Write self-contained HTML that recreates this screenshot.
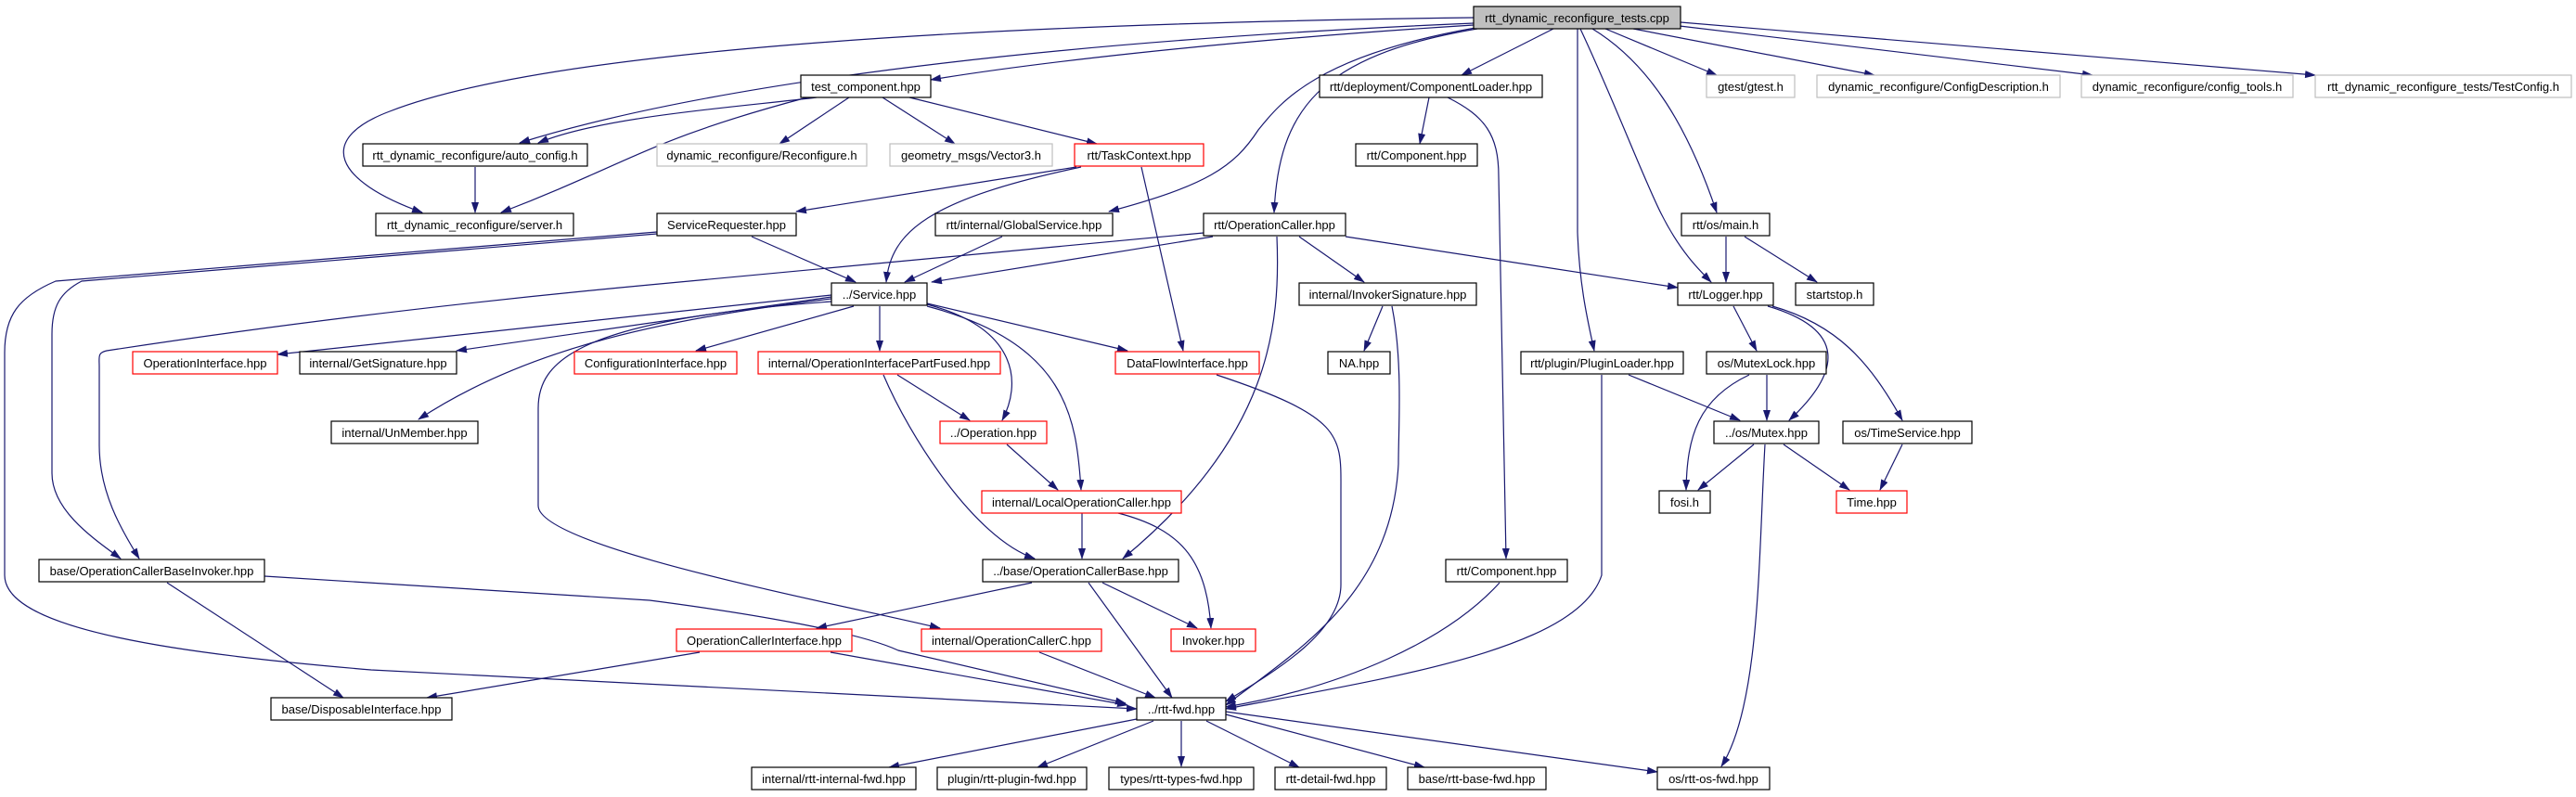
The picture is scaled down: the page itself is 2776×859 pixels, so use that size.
<!DOCTYPE html>
<html><head><meta charset="utf-8"><style>
html,body{margin:0;padding:0;background:#fff}
svg{display:block}
text{font-family:"Liberation Sans",sans-serif;font-size:13px;text-anchor:middle;fill:#000}
.e{fill:none;stroke:#191970;stroke-width:1.2}
.b{fill:#fff;stroke:#000;stroke-width:1.2}
.r{fill:#fff;stroke:#f00;stroke-width:1.2}
.g{fill:#fff;stroke:#bfbfbf;stroke-width:1.2}
</style></head><body>
<svg width="2776" height="859" viewBox="0 0 2776 859" xmlns="http://www.w3.org/2000/svg">
<defs><marker id="a" markerWidth="12" markerHeight="8" refX="11" refY="4" orient="auto" markerUnits="userSpaceOnUse"><path d="M0,0 L12,4 L0,8 z" fill="#191970"/></marker></defs>
<g class="e" marker-end="url(#a)">
<path d="M1588,19 C1100,25 600,50 420,120 C340,150 360,195 455,229"/>
<path d="M1588,25 C1000,50 700,110 560,154"/>
<path d="M1588,27 C1300,45 1100,70 1003,86"/>
<path d="M1674,31 L1575,81"/>
<path d="M1730,31 L1850,81"/>
<path d="M1760,31 L2020,81"/>
<path d="M1810,28 L2255,81"/>
<path d="M1811,24 L2495,81"/>
<path d="M1592,31 C1420,60 1378,120 1373,229"/>
<path d="M1590,30 C1420,60 1380,110 1356,140 C1330,180 1300,200 1195,228"/>
<path d="M1703,31 C1740,110 1770,190 1790,230 C1810,270 1830,290 1844,304"/>
<path d="M1716,31 C1780,70 1820,140 1850,229"/>
<path d="M1700,31 L1700,250 C1702,310 1712,350 1718,378"/>
<path d="M880,105 C800,115 650,125 580,154"/>
<path d="M870,105 C700,150 680,175 540,229"/>
<path d="M512,180 L512,229"/>
<path d="M915,105 L840,155"/>
<path d="M951,105 L1029,155"/>
<path d="M980,105 L1182,155"/>
<path d="M1160,180 L858,228"/>
<path d="M1165,180 C1000,215 960,250 955,304"/>
<path d="M1230,180 L1275,378"/>
<path d="M810,255 L922,304"/>
<path d="M708,250 L60,303 C20,320 5,340 5,380 L5,620 C5,680 200,705 400,722 L1225,764"/>
<path d="M708,252 L88,303 C65,315 56,330 56,360 L56,510 C56,550 100,580 130,602"/>
<path d="M1297,251 L700,307 C400,335 200,365 115,378 C105,380 107,385 107,395 L107,480 C107,530 130,570 150,602"/>
<path d="M1307,255 L1004,304"/>
<path d="M1080,255 L975,304"/>
<path d="M1400,255 L1470,304"/>
<path d="M1450,255 L1808,310"/>
<path d="M1376,255 C1380,350 1370,470 1210,602"/>
<path d="M1490,330 L1470,378"/>
<path d="M1500,330 C1512,390 1507,460 1507,500 C1500,640 1400,700 1321,760"/>
<path d="M896,318 L299,382"/>
<path d="M896,320 L492,378"/>
<path d="M896,322 C700,345 560,380 451,452"/>
<path d="M920,330 L750,378"/>
<path d="M896,325 C620,345 580,390 580,440 L580,545 C580,590 900,650 1013,677"/>
<path d="M948,330 L948,378"/>
<path d="M999,328 C1100,355 1100,415 1080,453"/>
<path d="M999,330 C1150,370 1160,450 1165,528"/>
<path d="M999,327 L1215,378"/>
<path d="M967,404 L1045,453"/>
<path d="M952,404 C980,470 1050,580 1115,602"/>
<path d="M1085,479 L1140,528"/>
<path d="M1166,553 L1166,602"/>
<path d="M1205,553 C1270,570 1300,600 1305,677"/>
<path d="M1311,404 C1450,450 1445,470 1445,530 L1445,630 C1445,680 1380,720 1321,756"/>
<path d="M1112,628 L880,677"/>
<path d="M1188,628 L1290,677"/>
<path d="M1173,628 L1263,752"/>
<path d="M285,621 L700,647 C800,660 923,680 968,701 L1213,758"/>
<path d="M180,628 L370,752"/>
<path d="M754,703 L460,752"/>
<path d="M895,703 L1215,760"/>
<path d="M1120,703 L1245,752"/>
<path d="M1616,628 C1560,690 1450,740 1321,762"/>
<path d="M1726,404 L1726,620 C1700,700 1500,730 1321,764"/>
<path d="M1755,404 L1875,453"/>
<path d="M1540,105 L1530,155"/>
<path d="M1560,105 C1600,125 1615,145 1615,190 L1623,602"/>
<path d="M1860,255 L1860,304"/>
<path d="M1880,255 L1958,304"/>
<path d="M1868,330 L1893,378"/>
<path d="M1905,330 C1990,355 1985,400 1928,453"/>
<path d="M1910,330 C1980,350 2015,390 2050,453"/>
<path d="M1904,404 L1904,453"/>
<path d="M1885,404 C1830,430 1818,470 1817,528"/>
<path d="M1890,479 L1830,528"/>
<path d="M1922,479 L1993,528"/>
<path d="M2050,479 L2026,528"/>
<path d="M1902,479 C1895,600 1897,760 1855,826"/>
<path d="M1225,775 L958,827"/>
<path d="M1243,777 L1118,827"/>
<path d="M1273,777 L1273,826"/>
<path d="M1300,777 L1400,827"/>
<path d="M1321,770 L1535,827"/>
<path d="M1321,767 L1786,832"/>
</g>
<!-- nodes -->
<rect x="1588" y="7" width="223" height="24" fill="#bfbfbf" stroke="#000" stroke-width="1.2"/><text x="1699.5" y="24">rtt_dynamic_reconfigure_tests.cpp</text>
<rect class="b" x="863" y="81" width="140" height="24"/><text x="933" y="98">test_component.hpp</text>
<rect class="b" x="1422" y="81" width="240" height="24"/><text x="1542" y="98">rtt/deployment/ComponentLoader.hpp</text>
<rect class="g" x="1839" y="81" width="95" height="24"/><text x="1886.5" y="98">gtest/gtest.h</text>
<rect class="g" x="1958" y="81" width="262" height="24"/><text x="2089" y="98">dynamic_reconfigure/ConfigDescription.h</text>
<rect class="g" x="2243" y="81" width="228" height="24"/><text x="2357" y="98">dynamic_reconfigure/config_tools.h</text>
<rect class="g" x="2495" y="81" width="276" height="24"/><text x="2633" y="98">rtt_dynamic_reconfigure_tests/TestConfig.h</text>
<rect class="b" x="391" y="155" width="242" height="24"/><text x="512" y="172">rtt_dynamic_reconfigure/auto_config.h</text>
<rect class="g" x="708" y="155" width="226" height="24"/><text x="821" y="172">dynamic_reconfigure/Reconfigure.h</text>
<rect class="g" x="959" y="155" width="175" height="24"/><text x="1046.5" y="172">geometry_msgs/Vector3.h</text>
<rect class="r" x="1158" y="155" width="139" height="24"/><text x="1227.5" y="172">rtt/TaskContext.hpp</text>
<rect class="b" x="1461" y="155" width="131" height="24"/><text x="1526.5" y="172">rtt/Component.hpp</text>
<rect class="b" x="405" y="230" width="213" height="24"/><text x="511.5" y="247">rtt_dynamic_reconfigure/server.h</text>
<rect class="b" x="708" y="230" width="150" height="24"/><text x="783" y="247">ServiceRequester.hpp</text>
<rect class="b" x="1008" y="230" width="191" height="24"/><text x="1103.5" y="247">rtt/internal/GlobalService.hpp</text>
<rect class="b" x="1297" y="230" width="153" height="24"/><text x="1373.5" y="247">rtt/OperationCaller.hpp</text>
<rect class="b" x="1812" y="230" width="95" height="24"/><text x="1859.5" y="247">rtt/os/main.h</text>
<rect class="b" x="896" y="305" width="103" height="24"/><text x="947.5" y="322">../Service.hpp</text>
<rect class="b" x="1400" y="305" width="191" height="24"/><text x="1495.5" y="322">internal/InvokerSignature.hpp</text>
<rect class="b" x="1808" y="305" width="103" height="24"/><text x="1859.5" y="322">rtt/Logger.hpp</text>
<rect class="b" x="1935" y="305" width="84" height="24"/><text x="1977" y="322">startstop.h</text>
<rect class="r" x="143" y="379" width="156" height="24"/><text x="221" y="396">OperationInterface.hpp</text>
<rect class="b" x="323" y="379" width="169" height="24"/><text x="407.5" y="396">internal/GetSignature.hpp</text>
<rect class="r" x="619" y="379" width="175" height="24"/><text x="706.5" y="396">ConfigurationInterface.hpp</text>
<rect class="r" x="817" y="379" width="261" height="24"/><text x="947.5" y="396">internal/OperationInterfacePartFused.hpp</text>
<rect class="r" x="1202" y="379" width="155" height="24"/><text x="1279.5" y="396">DataFlowInterface.hpp</text>
<rect class="b" x="1431" y="379" width="67" height="24"/><text x="1464.5" y="396">NA.hpp</text>
<rect class="b" x="1639" y="379" width="175" height="24"/><text x="1726.5" y="396">rtt/plugin/PluginLoader.hpp</text>
<rect class="b" x="1839" y="379" width="129" height="24"/><text x="1903.5" y="396">os/MutexLock.hpp</text>
<rect class="b" x="357" y="454" width="158" height="24"/><text x="436" y="471">internal/UnMember.hpp</text>
<rect class="r" x="1013" y="454" width="115" height="24"/><text x="1070.5" y="471">../Operation.hpp</text>
<rect class="b" x="1847" y="454" width="113" height="24"/><text x="1903.5" y="471">../os/Mutex.hpp</text>
<rect class="b" x="1986" y="454" width="139" height="24"/><text x="2055.5" y="471">os/TimeService.hpp</text>
<rect class="r" x="1058" y="529" width="215" height="24"/><text x="1165.5" y="546">internal/LocalOperationCaller.hpp</text>
<rect class="b" x="1788" y="529" width="55" height="24"/><text x="1815.5" y="546">fosi.h</text>
<rect class="r" x="1979" y="529" width="76" height="24"/><text x="2017" y="546">Time.hpp</text>
<rect class="b" x="42" y="603" width="243" height="24"/><text x="163.5" y="620">base/OperationCallerBaseInvoker.hpp</text>
<rect class="b" x="1059" y="603" width="211" height="24"/><text x="1164.5" y="620">../base/OperationCallerBase.hpp</text>
<rect class="b" x="1558" y="603" width="131" height="24"/><text x="1623.5" y="620">rtt/Component.hpp</text>
<rect class="r" x="729" y="678" width="189" height="24"/><text x="823.5" y="695">OperationCallerInterface.hpp</text>
<rect class="r" x="993" y="678" width="194" height="24"/><text x="1090" y="695">internal/OperationCallerC.hpp</text>
<rect class="r" x="1262" y="678" width="91" height="24"/><text x="1307.5" y="695">Invoker.hpp</text>
<rect class="b" x="292" y="752" width="195" height="24"/><text x="389.5" y="769">base/DisposableInterface.hpp</text>
<rect class="b" x="1225" y="752" width="96" height="24"/><text x="1273" y="769">../rtt-fwd.hpp</text>
<rect class="b" x="810" y="827" width="177" height="24"/><text x="898.5" y="844">internal/rtt-internal-fwd.hpp</text>
<rect class="b" x="1010" y="827" width="161" height="24"/><text x="1090.5" y="844">plugin/rtt-plugin-fwd.hpp</text>
<rect class="b" x="1195" y="827" width="156" height="24"/><text x="1273" y="844">types/rtt-types-fwd.hpp</text>
<rect class="b" x="1374" y="827" width="120" height="24"/><text x="1434" y="844">rtt-detail-fwd.hpp</text>
<rect class="b" x="1517" y="827" width="149" height="24"/><text x="1591.5" y="844">base/rtt-base-fwd.hpp</text>
<rect class="b" x="1786" y="827" width="121" height="24"/><text x="1846.5" y="844">os/rtt-os-fwd.hpp</text>
</svg>
</body></html>
